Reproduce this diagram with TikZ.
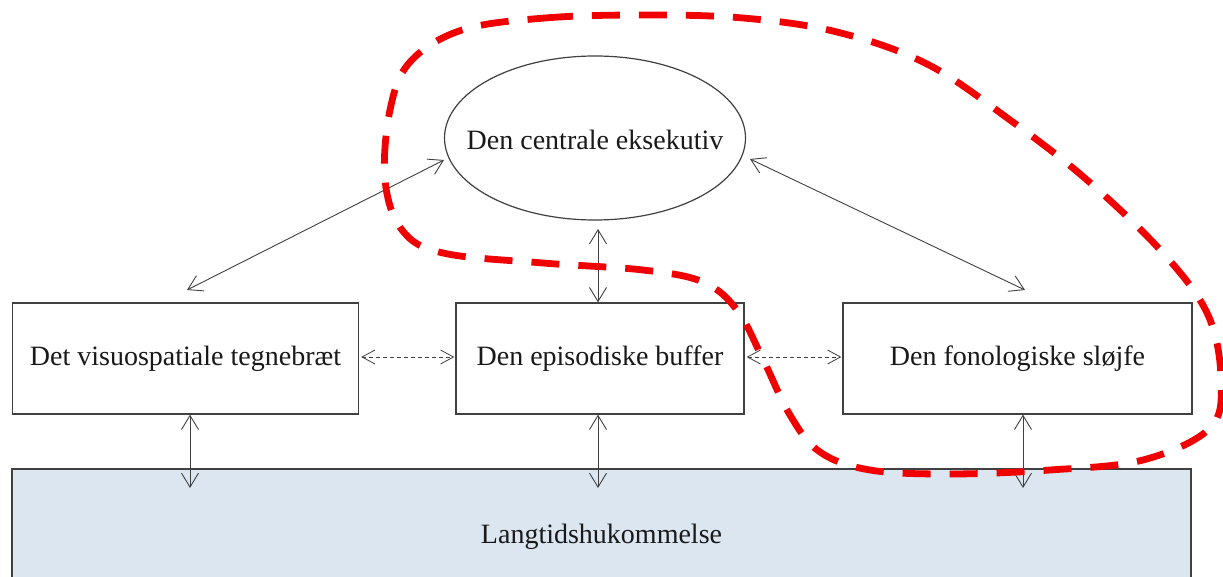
\documentclass[tikz,border=0pt]{standalone}
\usepackage{fontspec}
\setmainfont{Liberation Serif}
\usetikzlibrary{arrows.meta,shapes.geometric}
\definecolor{ltblue}{RGB}{220,230,241}
\definecolor{linegray}{RGB}{64,64,64}
\definecolor{redline}{RGB}{240,0,0}
\begin{document}
\begin{tikzpicture}[x=1pt,y=-1pt,
  every node/.style={font=\fontsize{28}{34}\selectfont, text=black!90},
  boxnode/.style={draw=linegray, line width=1.3pt, rectangle, inner sep=0pt, minimum height=111pt},
  bi/.style={draw=linegray, line width=0.9pt, {Straight Barb[length=14pt,width=17pt]}-{Straight Barb[length=14pt,width=17pt]}},
  dbi/.style={draw=linegray, line width=0.8pt, dash pattern=on 4pt off 3pt, {Straight Barb[length=13pt,width=14pt]}-{Straight Barb[length=13pt,width=14pt]}},
  redloop/.style={draw=redline, line width=6.8pt, dash pattern=on 28pt off 19pt}
]
\useasboundingbox (0,0) rectangle (1223,577);
\fill[white] (0,0) rectangle (1223,577);

% nodes
\node[draw=linegray, line width=1.2pt, ellipse, minimum width=301pt, minimum height=164pt, inner sep=0pt,
      label={[yshift=-2pt]center:Den centrale eksekutiv}] (ce) at (595,138) {};
\node[boxnode, minimum width=346pt] (vs) at (185.5,358.5) {Det visuospatiale tegnebræt};
\node[boxnode, minimum width=288pt] (eb) at (600,358.5) {Den episodiske buffer};
\node[boxnode, minimum width=349pt] (fs) at (1017.5,358.5) {Den fonologiske sløjfe};
\node[boxnode, fill=ltblue, minimum width=1179pt, minimum height=136pt] (lt) at (601.5,537) {Langtidshukommelse};

% free ends
\coordinate (a1) at (187,290);
\coordinate (a2) at (1025,290);
\coordinate (c1) at (444,160);
\coordinate (c2) at (750,159);
\coordinate (c3) at (598,229);

% connectors
\draw[bi] (c1) -- (a1);
\draw[bi] (c2) -- (a2);
\draw[bi] (c3) -- (eb.north -| c3);
\draw[bi] (vs.south -| 190,0) -- (190,488);
\draw[bi] (eb.south -| 598,0) -- (598,488);
\draw[bi] (fs.south -| 1023,0) -- (1023,488);
\draw[dbi] ([xshift=2pt,yshift=1.5pt]vs.east) -- ([xshift=-1pt,yshift=1.5pt]eb.west);
\draw[dbi] ([xshift=2pt,yshift=1.5pt]eb.east) -- ([xshift=-1pt,yshift=1.5pt]fs.west);

% red dashed loop
\draw[redloop] plot[smooth cycle, tension=0.6] coordinates {
 (462,30) (545,18) (643,15) (743,18) (837,32) (927,64) (1010,120) (1087,180)
 (1163,253) (1208,315) (1221,380) (1210,428) (1143,460) (1050,470) (950,474)
 (870,470) (820,452) (790,415) (762,357) (737,310) (703,282) (643,270)
 (543,263) (443,253) (402,230) (385,180) (390,110) (410,62)};
\end{tikzpicture}
\end{document}
